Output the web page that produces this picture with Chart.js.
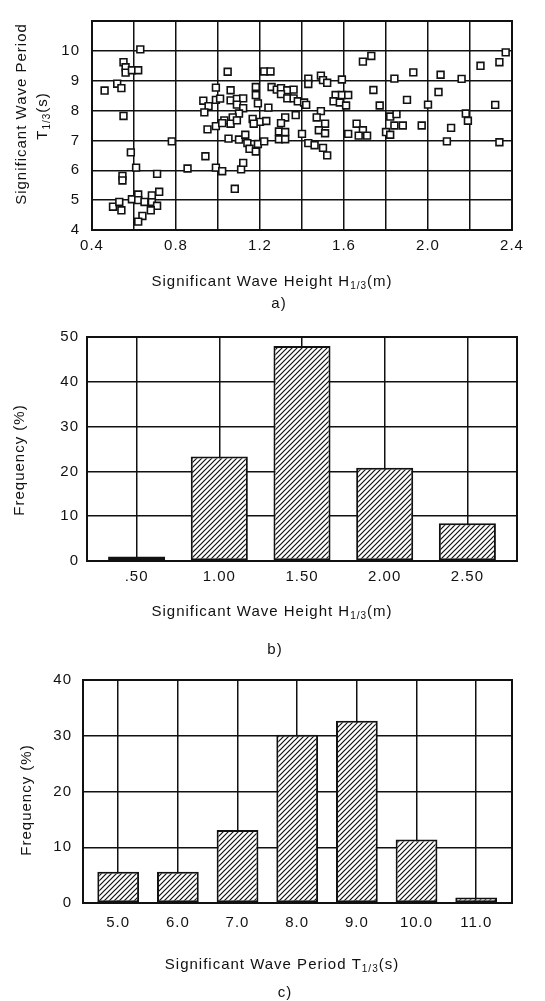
<!DOCTYPE html>
<html>
<head>
<meta charset="utf-8">
<title>Significant wave height and period</title>
<script src="https://cdn.jsdelivr.net/npm/chart.js@4.4.1/dist/chart.umd.min.js"></script>
<style>
  body { margin: 0; background: #fff; }
  canvas { position: absolute; left: 0; }
</style>
</head>
<body>
<canvas id="scatterChart" width="545" height="320" style="top:0"></canvas>
<canvas id="heightChart" width="545" height="340" style="top:320px"></canvas>
<canvas id="periodChart" width="545" height="341" style="top:660px"></canvas>
<script>
// a) measured pairs: H1/3 (m) and T1/3 (s)
const waveHeight = [
  0.46, 0.52, 0.54, 0.55, 0.56, 0.56, 0.59, 0.62, 0.63, 0.55, 0.78, 0.585, 0.61, 0.71, 0.545, 0.545,
  0.50, 0.53, 0.54, 0.59, 0.62, 0.62, 0.65, 0.685, 0.685, 0.72, 0.71, 0.68, 0.64, 0.62,
  0.855, 0.94, 0.99, 1.02, 1.11, 1.12, 1.08, 0.95, 1.05, 1.10, 1.13, 1.14, 1.15, 1.18, 1.19, 1.22,
  0.93, 0.955, 0.935, 0.99, 0.99, 0.99, 1.046, 1.06, 1.01, 1.06, 1.09, 1.12, 1.09, 1.12, 1.10, 1.07,
  1.03, 1.06, 1.09, 1.165, 1.20, 1.23, 1.17, 1.18, 1.18, 1.19, 1.24, 1.02,
  1.22, 1.25, 1.255, 1.28, 1.30, 1.33, 1.36, 1.30, 1.33, 1.36, 1.38, 1.41, 1.42, 1.43, 1.43, 1.49,
  1.50, 1.52, 1.59, 1.56, 1.59, 1.62, 1.55, 1.58, 1.61, 1.32, 1.37, 1.30, 1.29, 1.32, 1.29, 1.32,
  1.40, 1.49, 1.47, 1.51, 1.48, 1.51, 1.43, 1.46, 1.50, 1.52,
  1.62, 1.66, 1.69, 1.67, 1.71, 1.69, 1.73, 1.84, 1.93, 2.06, 2.16, 2.25, 2.34, 2.37, 1.74, 1.90,
  2.05, 2.00, 1.77, 2.32, 1.82, 1.85, 1.84, 1.88, 1.97, 2.11, 2.18, 2.19, 2.09, 2.34, 1.80, 1.82
];
const wavePeriod = [
  8.67, 8.90, 8.75, 9.62, 9.45, 9.27, 9.35, 9.35, 10.05, 7.82, 6.97, 6.60, 6.09, 5.88, 5.81, 5.66,
  4.78, 4.94, 4.66, 5.03, 5.19, 5.00, 4.94, 4.94, 5.16, 5.28, 4.81, 4.66, 4.47, 4.28,
  6.06, 6.47, 6.09, 5.97, 6.03, 6.25, 5.38, 7.37, 7.06, 7.03, 7.19, 6.91, 6.72, 6.63, 6.88, 6.97,
  8.33, 8.15, 7.94, 8.77, 8.36, 7.48, 9.30, 8.68, 8.40, 8.34, 8.39, 8.41, 8.20, 8.08, 7.90, 7.77,
  7.67, 7.56, 7.67, 7.72, 7.62, 7.65, 7.56, 8.79, 8.52, 8.24, 8.10, 7.58,
  9.31, 9.31, 8.79, 8.70, 8.75, 8.68, 8.70, 8.55, 8.41, 8.41, 8.31, 8.27, 8.19, 9.07, 8.89, 9.17,
  9.02, 8.93, 9.04, 8.52, 8.52, 8.52, 8.31, 8.27, 8.17, 7.77, 7.85, 7.58, 7.30, 7.28, 7.04, 7.04,
  7.22, 7.98, 7.77, 7.56, 7.34, 7.24, 6.91, 6.84, 6.75, 6.50,
  7.22, 7.56, 7.34, 7.16, 7.16, 9.64, 9.83, 9.07, 9.28, 9.20, 9.06, 9.50, 9.62, 9.95, 8.69, 8.36,
  8.62, 8.20, 8.17, 8.19, 7.80, 7.88, 7.50, 7.50, 7.50, 7.42, 7.90, 7.66, 6.97, 6.94, 7.28, 7.19
];
const scatterXLabels = ['0.4', '0.8', '1.2', '1.6', '2.0', '2.4'];

// b) frequency of H1/3 classes
const heightClasses = [0.5, 1.0, 1.5, 2.0, 2.5];
const heightLabels = ['.50', '1.00', '1.50', '2.00', '2.50'];
const heightFreq = [1.0, 23.3, 48.0, 20.8, 8.4];

// c) frequency of T1/3 classes
const periodClasses = [5, 6, 7, 8, 9, 10, 11];
const periodLabels = ['5.0', '6.0', '7.0', '8.0', '9.0', '10.0', '11.0'];
const periodFreq = [5.6, 5.6, 13.1, 30.2, 32.7, 11.4, 1.0];

const FONT = '"Liberation Sans", Arial, Helvetica, sans-serif';
const INK = '#111';

// diagonal hatching used to fill the histogram bars
function hatchPattern() {
  const c = document.createElement('canvas');
  c.width = 5; c.height = 5;
  const g = c.getContext('2d');
  g.fillStyle = '#fff';
  g.fillRect(0, 0, 5, 5);
  g.strokeStyle = INK;
  g.lineWidth = 1.2;
  g.beginPath();
  g.moveTo(-1, 6); g.lineTo(6, -1);
  g.moveTo(-3, 3); g.lineTo(3, -3);
  g.moveTo(2, 8); g.lineTo(8, 2);
  g.stroke();
  return g.createPattern(c, 'repeat');
}

// text with "1/3" style subscripts; parts = [[text, isSub], ...]
function drawRich(ctx, parts, size) {
  const subSize = Math.round(size * 0.68);
  let total = 0;
  const widths = parts.map(([t, sub]) => {
    ctx.font = (sub ? subSize : size) + 'px ' + FONT;
    const w = ctx.measureText(t).width;
    total += w;
    return w;
  });
  let x = -total / 2;
  parts.forEach(([t, sub], i) => {
    ctx.font = (sub ? subSize : size) + 'px ' + FONT;
    ctx.fillText(t, x, sub ? 4 : 0);
    x += widths[i];
  });
}

const captionPlugin = {
  id: 'captions',
  beforeUpdate(chart) { chart.ctx.letterSpacing = '1px'; },
  beforeDraw(chart) { chart.ctx.letterSpacing = '1px'; },
  afterDraw(chart, args, opts) {
    const ctx = chart.ctx;
    (opts.items || []).forEach(item => {
      ctx.save();
      ctx.letterSpacing = '1px';
      ctx.fillStyle = INK;
      ctx.textAlign = 'left';
      ctx.textBaseline = 'middle';
      ctx.translate(item.x, item.y);
      if (item.vertical) ctx.rotate(-Math.PI / 2);
      drawRich(ctx, item.parts, item.size || 15);
      ctx.restore();
    });
  }
};

// closed box round the plot area
const framePlugin = {
  id: 'frame',
  afterDatasetsDraw(chart) {
    const a = chart.chartArea;
    const ctx = chart.ctx;
    ctx.save();
    ctx.strokeStyle = INK;
    ctx.lineWidth = 2;
    ctx.strokeRect(a.left, a.top, a.right - a.left, a.bottom - a.top);
    ctx.restore();
  }
};

Chart.register(captionPlugin, framePlugin);

const tickFont = { family: FONT, size: 15 };
const gridStyle = { color: INK, lineWidth: 1.5, drawTicks: false, offset: false };

// ---- a) scatter ----
const points = waveHeight.map((h, i) => ({ x: h, y: wavePeriod[i] }));

new Chart(document.getElementById('scatterChart'), {
  type: 'scatter',
  data: {
    datasets: [{
      data: points,
      pointStyle: 'rect',
      pointRadius: 4.8,
      pointBorderWidth: 1.6,
      borderColor: INK,
      backgroundColor: '#fff'
    }]
  },
  options: {
    responsive: false,
    animation: false,
    layout: { autoPadding: false, padding: { top: 6, bottom: 60, left: 0, right: 33 } },
    plugins: {
      legend: { display: false },
      tooltip: { enabled: false },
      captions: {
        items: [
          { x: 22, y: 114, vertical: true, parts: [['Significant Wave Period', false]] },
          { x: 43, y: 116, vertical: true, parts: [['T', false], ['1/3', true], ['(s)', false]] },
          { x: 272, y: 282, parts: [['Significant Wave Height H', false], ['1/3', true], ['(m)', false]] },
          { x: 279, y: 304, parts: [['a)', false]] }
        ]
      }
    },
    scales: {
      x: {
        type: 'linear', min: 0.4, max: 2.4,
        grid: gridStyle,
        border: { display: false },
        afterFit: s => { s.height = 30; },
        ticks: {
          stepSize: 0.2, autoSkip: false, maxRotation: 0, padding: 7,
          color: INK, font: tickFont,
          callback: v => {
            const k = Math.round(v * 10);
            return k % 4 === 0 ? scatterXLabels[(k - 4) / 4] : '';
          }
        }
      },
      y: {
        min: 4, max: 11,
        grid: gridStyle,
        border: { display: false },
        afterFit: s => { s.width = 92; },
        ticks: {
          stepSize: 1, padding: 12, color: INK, font: tickFont,
          callback: v => (v === 11 ? '' : String(v))
        }
      }
    }
  }
});

// ---- b) and c) histograms ----
function histogram(id, classes, labels, freq, opt) {
  return new Chart(document.getElementById(id), {
    type: 'bar',
    data: {
      datasets: [{
        data: classes.map((c, i) => ({ x: c, y: freq[i] })),
        backgroundColor: hatchPattern(),
        borderColor: INK,
        borderWidth: 2,
        borderSkipped: false,
        categoryPercentage: 1,
        barPercentage: opt.barPct
      }]
    },
    options: {
      responsive: false,
      animation: false,
      layout: { autoPadding: false, padding: opt.padding },
      plugins: {
        legend: { display: false },
        tooltip: { enabled: false },
        captions: { items: opt.captions }
      },
      scales: {
        x: {
          type: 'linear', min: opt.xMin, max: opt.xMax,
          offset: false,
          grid: gridStyle,
          border: { display: false },
          afterFit: s => { s.height = 30; },
          afterBuildTicks: s => { s.ticks = classes.map(v => ({ value: v })); },
          ticks: {
            autoSkip: false, maxRotation: 0, padding: opt.xPad,
            color: INK, font: tickFont,
            callback: (v, i) => labels[i]
          }
        },
        y: {
          min: 0, max: opt.yMax,
          grid: gridStyle,
          border: { display: false },
          afterFit: s => { s.width = opt.left; },
          ticks: { stepSize: 10, padding: opt.yPad, color: INK, font: tickFont }
        }
      }
    }
  });
}

histogram('heightChart', heightClasses, heightLabels, heightFreq, {
  xMin: 0.2, xMax: 2.8, yMax: 50, left: 87, barPct: 0.69, xPad: 7, yPad: 8,
  padding: { top: 14, bottom: 69, left: 0, right: 28 },
  captions: [
    { x: 20, y: 140, vertical: true, parts: [['Frequency (%)', false]] },
    { x: 272, y: 292, parts: [['Significant Wave Height H', false], ['1/3', true], ['(m)', false]] },
    { x: 275, y: 330, parts: [['b)', false]] }
  ]
});

histogram('periodChart', periodClasses, periodLabels, periodFreq, {
  xMin: 4.41, xMax: 11.6, yMax: 40, left: 83, barPct: 0.7, xPad: 11, yPad: 11,
  padding: { top: 20, bottom: 68, left: 0, right: 33 },
  captions: [
    { x: 27, y: 140, vertical: true, parts: [['Frequency (%)', false]] },
    { x: 282, y: 305, parts: [['Significant Wave Period T', false], ['1/3', true], ['(s)', false]] },
    { x: 285, y: 333, parts: [['c)', false]] }
  ]
});
</script>
</body>
</html>
